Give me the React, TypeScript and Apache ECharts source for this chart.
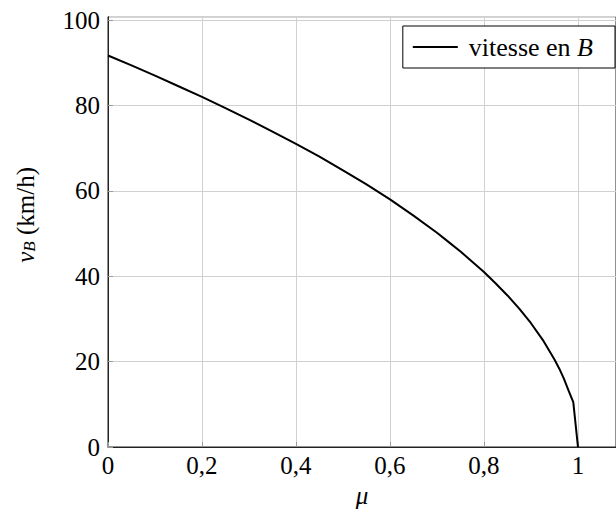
import React, { useEffect, useRef } from "react";
import * as echarts from "echarts";

const muValues = [0, 0.05, 0.1, 0.15, 0.2, 0.25, 0.3, 0.35, 0.4, 0.45, 0.5, 0.55, 0.6, 0.65, 0.7, 0.725, 0.75, 0.775, 0.8, 0.825, 0.85, 0.875, 0.9, 0.925, 0.95, 0.96, 0.97, 0.98, 0.99, 1.0];
const vBValues = [91.7, 89.4, 87.0, 84.5, 82.0, 79.4, 76.7, 73.9, 71.0, 68.0, 64.8, 61.5, 58.0, 54.2, 50.2, 48.0, 45.8, 43.4, 41.0, 38.3, 35.5, 32.4, 29.0, 25.1, 20.5, 18.4, 16.0, 13.2, 10.5, 0];
const seriesName = "vitesse en B";
const xTickStep = 0.2;
const yTickStep = 20;

const FONT = "'Liberation Serif', 'DejaVu Serif', serif";

export default function App() {
  const ref = useRef<HTMLDivElement>(null);
  useEffect(() => {
    if (!ref.current) return;
    const chart = echarts.init(ref.current, undefined, { renderer: "svg" });
    const data = muValues.map((m, i) => [m, vBValues[i]]);
    const fmt = (v: number) => {
      const r = Math.round(v * 10) / 10;
      return String(r).replace(".", ",");
    };
    chart.setOption({
      animation: false,
      backgroundColor: "#fff",
      textStyle: { fontFamily: FONT },
      grid: { left: 108, right: 0, top: 16.7, bottom: 69, show: true, borderColor: "#222", borderWidth: 1, backgroundColor: "transparent" },
      legend: {
        show: true,
        right: 1,
        top: 26,
        orient: "horizontal",
        borderColor: "#000",
        borderWidth: 1,
        padding: [8, 22, 8, 9],
        itemWidth: 45,
        itemHeight: 14,
        itemGap: 8,
        backgroundColor: "#fff",
        itemStyle: { opacity: 0 },
        lineStyle: { color: "#000", width: 2 },
        formatter: () => "vitesse en {i|B}",
        textStyle: {
          fontFamily: FONT,
          fontSize: 26,
          color: "#000",
          padding: [0, 0, 0, 6],
          rich: { i: { fontFamily: FONT, fontSize: 26, fontStyle: "italic", color: "#000" } },
        },
        data: [seriesName],
      },
      xAxis: {
        type: "value",
        min: 0,
        max: 1.0809,
        interval: xTickStep,
        name: "μ",
        nameLocation: "middle",
        nameGap: 33,
        nameTextStyle: { fontFamily: FONT, fontSize: 25, fontStyle: "italic", color: "#000" },
        axisLine: { show: true, lineStyle: { color: "#222", width: 1 } },
        axisTick: { show: true, inside: true, length: 5, lineStyle: { color: "#999" } },
        axisLabel: { formatter: fmt, fontFamily: FONT, fontSize: 25, color: "#000", margin: 6, showMaxLabel: false },
        splitLine: { show: true, lineStyle: { color: "#d0d0d0", width: 1 } },
      },
      yAxis: {
        type: "value",
        min: 0,
        max: 100.8,
        interval: yTickStep,
        name: "{v|v}{s|B} (km/h)",
        nameLocation: "middle",
        nameRotate: 90,
        nameGap: 70,
        nameTextStyle: {
          fontFamily: FONT,
          fontSize: 25,
          color: "#000",
          padding: [0, 0, 0, 34],
          rich: {
            v: { fontFamily: FONT, fontSize: 25, fontStyle: "italic", color: "#000" },
            s: { fontFamily: FONT, fontSize: 17, fontStyle: "italic", color: "#000", verticalAlign: "bottom", padding: [8, 0, 0, 0] },
          },
        },
        axisLine: { show: true, lineStyle: { color: "#222", width: 1 } },
        axisTick: { show: true, inside: true, length: 5, lineStyle: { color: "#999" } },
        axisLabel: { formatter: (v: number) => String(Math.round(v)), fontFamily: FONT, fontSize: 25, color: "#000", margin: 8, showMaxLabel: false },
        splitLine: { show: true, lineStyle: { color: "#d0d0d0", width: 1 } },
      },
      series: [
        {
          name: seriesName,
          type: "line",
          data,
          symbol: "none",
          smooth: false,
          lineStyle: { color: "#000", width: 2 },
          itemStyle: { color: "#000" },
        },
      ],
    });
    return () => chart.dispose();
  }, []);
  return <div ref={ref} style={{ position: "fixed", left: 0, top: 0, width: 616, height: 516 }} />;
}
